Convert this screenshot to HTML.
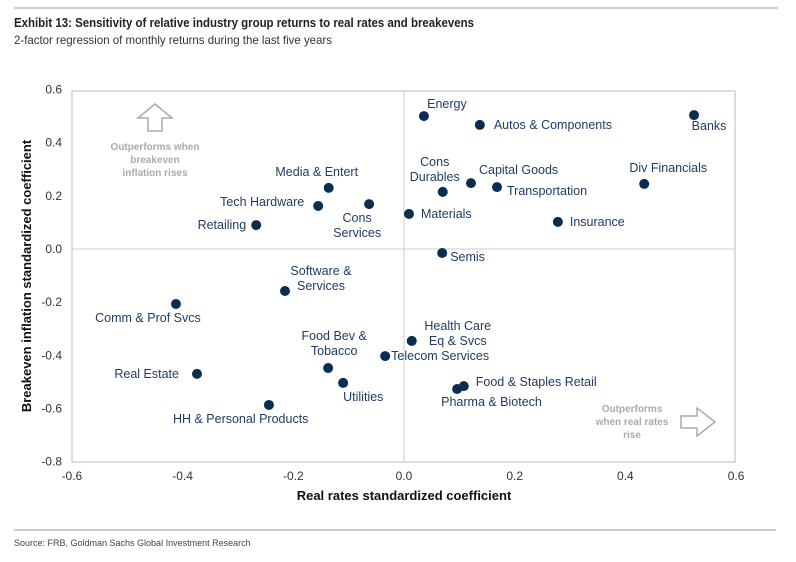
<!DOCTYPE html>
<html><head><meta charset="utf-8"><style>
body{margin:0;background:#fff;width:796px;height:557px;overflow:hidden;font-family:"Liberation Sans",sans-serif}
</style></head><body>
<svg width="796" height="557" xmlns="http://www.w3.org/2000/svg" id="svg">
<line x1="14" y1="8" x2="778" y2="8" stroke="#bbb" stroke-width="1.5"/>
<text x="14" y="27" font-size="13" font-weight="bold" fill="#222" textLength="460" lengthAdjust="spacingAndGlyphs">Exhibit 13: Sensitivity of relative industry group returns to real rates and breakevens</text>
<text x="14" y="44" font-size="12" fill="#333" textLength="318" lengthAdjust="spacingAndGlyphs">2-factor regression of monthly returns during the last five years</text>
<rect x="72" y="91" width="663" height="371" fill="none" stroke="#bbb"/>
<g id="axes"></g>
<g id="marks"></g>
<text x="404" y="500" font-size="13" font-weight="bold" fill="#111" text-anchor="middle">Real rates standardized coefficient</text>
<text transform="translate(31,276) rotate(-90)" font-size="13" font-weight="bold" fill="#111" text-anchor="middle">Breakeven inflation standardized coefficient</text>
<g fill="#aaa" font-size="10" font-weight="bold" text-anchor="middle">
<path d="M148,131 L148,118 L138,118 L155,104 L172,118 L162,118 L162,131 Z" fill="none" stroke="#aaa" stroke-width="1.5"/>
<text x="155" y="150">Outperforms when</text><text x="155" y="163">breakeven</text><text x="155" y="176">inflation rises</text>
</g>
<g fill="#aaa" font-size="10" font-weight="bold" text-anchor="middle">
<path d="M681,416 L697,416 L697,408 L715,422 L697,436 L697,428 L681,428 Z" fill="none" stroke="#aaa" stroke-width="1.5"/>
<text x="632" y="412">Outperforms</text><text x="632" y="425">when real rates</text><text x="632" y="438">rise</text>
</g>
<line x1="14" y1="530" x2="776" y2="530" stroke="#bbb" stroke-width="1.5"/>
<text x="14" y="546" font-size="9" fill="#444">Source: FRB, Goldman Sachs Global Investment Research</text>
</svg>
<script>
const names=["Energy","Autos & Components","Banks","Div Financials","Cons Durables","Capital Goods","Transportation","Media & Entert","Tech Hardware","Cons Services","Materials","Insurance","Retailing","Semis","Software & Services","Comm & Prof Svcs","Health Care Eq & Svcs","Telecom Services","Food Bev & Tobacco","Utilities","Real Estate","HH & Personal Products","Food & Staples Retail","Pharma & Biotech"];
const realRates=[0.036,0.137,0.524,0.434,0.070,0.121,0.168,-0.136,-0.155,-0.063,0.009,0.278,-0.267,0.069,-0.215,-0.412,0.014,-0.034,-0.137,-0.110,-0.374,-0.244,0.108,0.096];
const breakevens=[0.50,0.467,0.504,0.245,0.215,0.248,0.233,0.23,0.162,0.169,0.132,0.102,0.09,-0.015,-0.158,-0.207,-0.346,-0.403,-0.448,-0.504,-0.470,-0.587,-0.516,-0.527];
const xTicks=["-0.6","-0.4","-0.2","0.0","0.2","0.4","0.6"];
const yTicks=["0.6","0.4","0.2","0.0","-0.2","-0.4","-0.6","-0.8"];
const lbl=[[23,-8,"middle","Energy"],[14,4,"start","Autos & Components"],[15,15,"middle","Banks"],[24,-12,"middle","Div Financials"],[-8,-26,"middle","Cons|Durables"],[8,-9,"start","Capital Goods"],[10,8,"start","Transportation"],[-12,-12,"middle","Media & Entert"],[-14,0,"end","Tech Hardware"],[-12,18,"middle","Cons|Services"],[12,4,"start","Materials"],[12,4,"start","Insurance"],[-10,4,"end","Retailing"],[8,8,"start","Semis"],[36,-16,"middle","Software &|Services"],[-28,18,"middle","Comm & Prof Svcs"],[46,-11,"middle","Health Care|Eq & Svcs"],[6,4,"start","Telecom Services"],[6,-28,"middle","Food Bev &|Tobacco"],[0,18,"start","Utilities"],[-18,4,"end","Real Estate"],[-96,18,"start","HH & Personal Products"],[12,0,"start","Food & Staples Retail"],[-16,17,"start","Pharma & Biotech"]];
const X=v=>404+v*553.5, Y=v=>249-v*265.7;
const NS="http://www.w3.org/2000/svg";
const ax=document.getElementById("axes"), mk=document.getElementById("marks");
xTicks.forEach(t=>{const e=document.createElementNS(NS,"text");e.setAttribute("x",X(+t));e.setAttribute("y",480);e.setAttribute("font-size","12");e.setAttribute("fill","#333");e.setAttribute("text-anchor","middle");e.textContent=t;


ax.appendChild(e);});
yTicks.forEach(t=>{const e=document.createElementNS(NS,"text");e.setAttribute("x",62);e.setAttribute("y",Y(+t)+4);e.setAttribute("font-size","12");e.setAttribute("fill","#333");e.setAttribute("text-anchor","end");e.textContent=t;


ax.appendChild(e);});
const h=document.createElementNS(NS,"line");h.setAttribute("x1",72);h.setAttribute("x2",735);h.setAttribute("y1",Y(0));h.setAttribute("y2",Y(0));h.setAttribute("stroke","#ccc");


ax.appendChild(h);
const v=document.createElementNS(NS,"line");v.setAttribute("y1",91);v.setAttribute("y2",462);v.setAttribute("x1",X(0));v.setAttribute("x2",X(0));v.setAttribute("stroke","#ccc");


ax.appendChild(v);
names.forEach((n,i)=>{const cx=X(realRates[i]),cy=Y(breakevens[i]);
const c=document.createElementNS(NS,"circle");c.setAttribute("cx",cx);c.setAttribute("cy",cy);c.setAttribute("r",5);c.setAttribute("fill","#0c2d52");


mk.appendChild(c);
const L=lbl[i];const lines=L[3].split("|");
lines.forEach((s,k)=>{const t=document.createElementNS(NS,"text");t.setAttribute("x",cx+L[0]);t.setAttribute("y",cy+L[1]+k*15);t.setAttribute("font-size","12.5");t.setAttribute("fill","#1f3c64");t.setAttribute("text-anchor",L[2]);t.textContent=s;


mk.appendChild(t);});
});
</script>
</body></html>
